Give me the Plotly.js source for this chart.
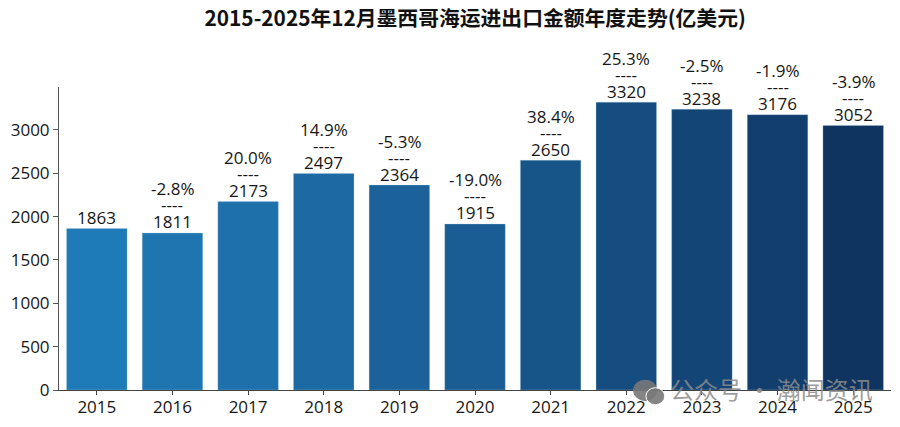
<!DOCTYPE html>
<html><head><meta charset="utf-8">
<script src="https://cdn.plot.ly/plotly-3.0.1.min.js"></script>
<style>html,body{margin:0;padding:0;background:#fff}</style></head>
<body><div id="c" style="width:900px;height:427px"></div>
<script>
const years=['2015','2016','2017','2018','2019','2020','2021','2022','2023','2024','2025'];
const values=[1863,1811,2173,2497,2364,1915,2650,3320,3238,3176,3052];
const growth=['','-2.8%','20.0%','14.9%','-5.3%','-19.0%','38.4%','25.3%','-2.5%','-1.9%','-3.9%'];
const colors=['#1f7ab8','#1f75b0','#1e70ab','#1c69a3','#1b629a','#195d94','#175589','#154d80','#134577','#123e6e','#0f3460'];
const font='"Open Sans","Noto Sans",sans-serif';
const txt={family:font,size:17,color:'#161616'};
const ann=[];
years.forEach((y,i)=>{
  const a=(text,yshift)=>ann.push({x:i,y:values[i],xref:'x',yref:'y',text,showarrow:false,yanchor:'middle',xanchor:'center',yshift,font:txt});
  a(String(values[i]),11);
  if(growth[i]){a('----',28);a(growth[i],44);}
});
ann.push({xref:'paper',yref:'paper',x:0.8564,y:0.005,text:'公众号 · 瀚闻资讯',showarrow:false,xanchor:'center',yanchor:'middle',
  font:{family:'"Noto Sans CJK SC",sans-serif',size:24,color:'rgba(140,140,140,0.85)'}});
const wm='rgba(120,120,120,0.9)';
const shapes=[
 {type:'circle',xref:'paper',yref:'paper',x0:0.690,x1:0.719,y0:-0.036,y1:0.034,fillcolor:wm,line:{width:0},layer:'above'},
 {type:'circle',xref:'paper',yref:'paper',x0:0.7055,x1:0.728,y0:-0.0485,y1:0.0076,fillcolor:wm,line:{color:'#fff',width:1},layer:'above'}
];
Plotly.newPlot('c',[{type:'bar',x:years,y:values,marker:{color:colors,line:{color:'rgba(170,205,230,0.45)',width:0.7}},width:0.8,hoverinfo:'skip'}],
{width:900,height:427,margin:{l:59,r:9,t:87,b:37},paper_bgcolor:'#fff',plot_bgcolor:'#fff',showlegend:false,annotations:ann,shapes,
title:{text:'<b>2015-2025年12月墨西哥海运进出口金额年度走势(亿美元)</b>',x:0.528,xanchor:'center',y:0.957,yanchor:'middle',font:{family:'"Noto Sans CJK SC",sans-serif',size:20.8,color:'#111'}},
xaxis:{type:'category',showline:true,linecolor:'#444',linewidth:1,ticks:'outside',ticklen:4,tickcolor:'#444',tickfont:txt,ticklabelstandoff:-2,range:[-0.5,10.5],showgrid:false},
yaxis:{range:[0,3495],tickvals:[0,500,1000,1500,2000,2500,3000],showline:true,linecolor:'#555',linewidth:1,ticks:'outside',ticklen:5,tickcolor:'#555',tickfont:txt,showgrid:false,zeroline:false}
},{displayModeBar:false,staticPlot:true});
</script></body></html>
